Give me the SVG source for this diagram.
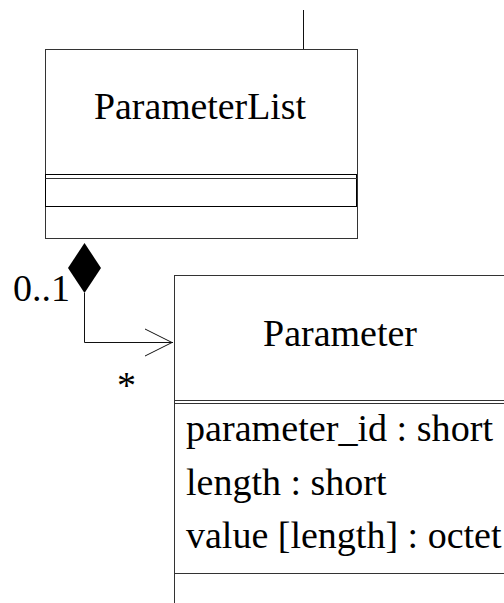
<svg xmlns="http://www.w3.org/2000/svg" width="504" height="603" viewBox="0 0 504 603">
  <style>
    .box { fill: #ffffff; stroke: #333333; stroke-width: 1; }
    .sep { stroke: #333333; stroke-width: 1; fill: none; }
    .edge { stroke: #111111; stroke-width: 1; fill: none; }
    .t { font-family: 'Liberation Serif', 'DejaVu Serif', serif; font-size: 38px; fill: #000000; }
    .mid { text-anchor: middle; }
  </style>

  <!-- connectors -->
  <g id="connectors">
    <!-- association leaving the top of ParameterList -->
    <line class="edge" x1="303.5" y1="10" x2="303.5" y2="49"/>
    <!-- composition: ParameterList (0..1) owns Parameter (*) -->
    <polyline class="edge" points="84.5,293 84.5,342.5 173,342.5"/>
    <polyline class="edge" points="145,329 172,342.5 145,356"/>
    <polygon points="84.5,243 101,268 84.5,293 68,268" fill="#000000"/>
    <text class="t" x="13" y="301" font-family="Liberation Serif, serif">0..1</text>
    <text class="t" x="117" y="398" font-family="Liberation Serif, serif">*</text>
  </g>

  <!-- class ParameterList -->
  <g id="ParameterList">
    <rect class="box" x="45.5" y="49.5" width="312" height="189"/>
    <text class="t mid" x="200" y="119" textLength="212" lengthAdjust="spacingAndGlyphs">ParameterList</text>
    <rect x="45.5" y="174.5" width="311" height="32" fill="none" stroke="#000000" stroke-width="1"/>
    <line class="sep" x1="45.5" y1="178.5" x2="357" y2="178.5"/>
  </g>

  <!-- class Parameter -->
  <g id="Parameter">
    <rect class="box" x="174.5" y="275.5" width="340" height="340"/>
    <text class="t mid" x="340" y="346" textLength="154" lengthAdjust="spacingAndGlyphs">Parameter</text>
    <line class="sep" x1="174.5" y1="400.5" x2="504" y2="400.5"/>
    <line class="sep" x1="174.5" y1="403.5" x2="504" y2="403.5"/>
    <text class="t" x="186" y="441" textLength="307" lengthAdjust="spacingAndGlyphs">parameter_id : short</text>
    <text class="t" x="186" y="495">length : short</text>
    <text class="t" x="186" y="548">value [length] : octet</text>
    <line class="sep" x1="174.5" y1="573.5" x2="504" y2="573.5"/>
  </g>
</svg>
